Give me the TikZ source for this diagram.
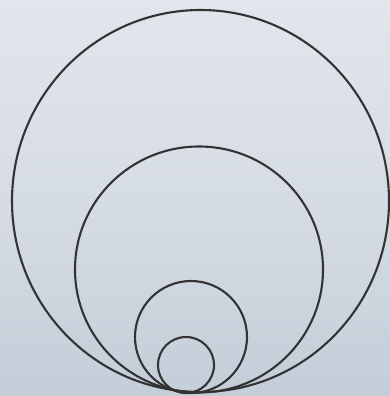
\documentclass[tikz,border=0pt]{standalone}
\usetikzlibrary{shapes.geometric}
\begin{document}
\begin{tikzpicture}[x=1pt,y=-1pt,
  ring/.style={draw=black!80, line width=2.1pt, inner sep=0pt}]
\definecolor{bgtop}{RGB}{226,229,236}
\definecolor{bgmid}{RGB}{214,220,229}
\definecolor{bgbot}{RGB}{196,206,216}
\useasboundingbox (0,0) rectangle (390,396);
\shade[top color=bgtop, bottom color=bgbot, middle color=bgmid] (0,0) rectangle (390,396);
\node[ring, ellipse, minimum width=377pt, minimum height=382pt] (c1) at (200.5,201) {};
\node[ring, ellipse, minimum width=248pt, minimum height=246pt] (c2) at (199,269.5) {};
\node[ring, circle, minimum size=112pt] (c3) at (191,337) {};
\node[ring, circle, minimum size=56pt] (c4) at (186,365) {};
\end{tikzpicture}
\end{document}
